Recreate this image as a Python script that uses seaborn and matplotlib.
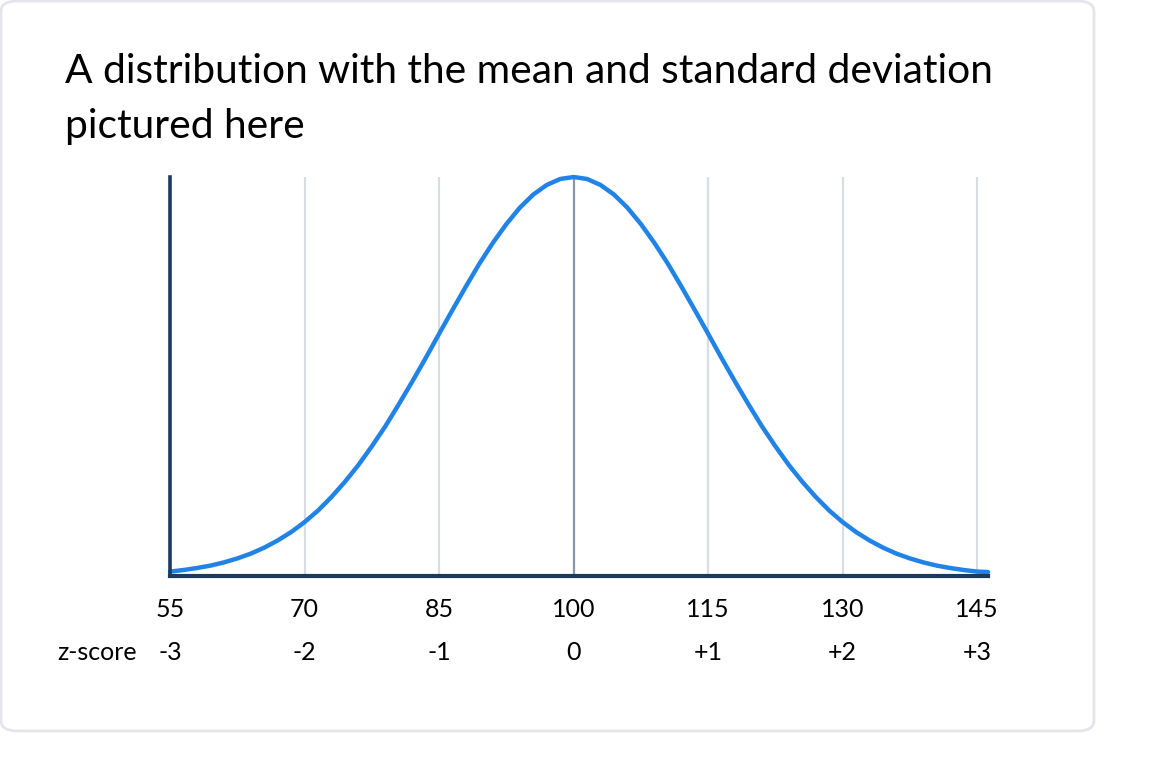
import numpy as np
import pandas as pd
import matplotlib
matplotlib.use("Agg")
import matplotlib.pyplot as plt
import seaborn as sns
from matplotlib.patches import FancyBboxPatch

# values (relative height, peak = 1)
scores = [55, 56.5, 58, 59.5, 61, 62.5, 64, 65.5, 67, 68.5,
          70, 71.5, 73, 74.5, 76, 77.5, 79, 80.5, 82, 83.5,
          85, 86.5, 88, 89.5, 91, 92.5, 94, 95.5, 97, 98.5,
          100, 101.5, 103, 104.5, 106, 107.5, 109, 110.5, 112, 113.5,
          115, 116.5, 118, 119.5, 121, 122.5, 124, 125.5, 127, 128.5,
          130, 131.5, 133, 134.5, 136, 137.5, 139, 140.5, 142, 143.5,
          145, 146.2]
heights = [0.011, 0.015, 0.020, 0.026, 0.034, 0.044, 0.056, 0.071, 0.089, 0.110,
           0.135, 0.164, 0.198, 0.236, 0.278, 0.325, 0.375, 0.430, 0.487, 0.546,
           0.607, 0.667, 0.726, 0.783, 0.835, 0.882, 0.923, 0.956, 0.980, 0.995,
           1.000, 0.995, 0.980, 0.956, 0.923, 0.882, 0.835, 0.783, 0.726, 0.667,
           0.607, 0.546, 0.487, 0.430, 0.375, 0.325, 0.278, 0.236, 0.198, 0.164,
           0.135, 0.110, 0.089, 0.071, 0.056, 0.044, 0.034, 0.026, 0.020, 0.015,
           0.011, 0.010]

tick_values = [55, 70, 85, 100, 115, 130, 145]
tick_labels = ["55", "70", "85", "100", "115", "130", "145"]
z_labels = ["-3", "-2", "-1", "0", "+1", "+2", "+3"]
title_lines = ["A distribution with the mean and standard deviation", "pictured here"]

sns.set_theme(style="white")
plt.rcParams['font.family'] = ['Lato', 'DejaVu Sans']

W, H = 1152, 764
fig = plt.figure(figsize=(W / 100, H / 100), dpi=100)
fig.patch.set_facecolor("white")

# card background
card = FancyBboxPatch((1 / W, (H - 731) / H), 1093 / W, 730 / H,
                      boxstyle="round,pad=0,rounding_size=0.014",
                      transform=fig.transFigure, facecolor="white",
                      edgecolor="#E4E4EC", linewidth=2, zorder=-1)
fig.patches.append(card)

ax = fig.add_axes([170 / W, (H - 576) / H, (988 - 170) / W, (576 - 177) / H])
ax.set_zorder(2)
ax.set_facecolor("none")

df = pd.DataFrame({"score": scores, "height": heights})

# vertical grid lines
for v in tick_values[1:]:
    col = "#8796A8" if v == 100 else "#D9DCE3"
    ax.axvline(v, color=col, linewidth=1.6, zorder=1)

sns.lineplot(data=df, x="score", y="height", ax=ax, color="#2183E6",
             linewidth=3.2, zorder=3, clip_on=False)

ax.set_xlim(55, 146.2)
ax.set_ylim(0, 1.0)
ax.set_yticks([])
ax.set_xticks(tick_values)
ax.set_xticklabels(tick_labels, fontsize=18)
ax.tick_params(axis="x", length=0, pad=16, labelcolor="black")
ax.set_xlabel("")
ax.set_ylabel("")

for side in ["top", "right"]:
    ax.spines[side].set_visible(False)
ax.spines["left"].set_color("#1B3A5C")
ax.spines["left"].set_linewidth(2.6)
ax.spines["bottom"].set_color("#1B3A5C")
ax.spines["bottom"].set_linewidth(3)
ax.spines["left"].set_zorder(4)
ax.spines["bottom"].set_zorder(4)

# z-score row
trans = ax.get_xaxis_transform()
zy = -(653 - 576) / (576 - 177)
for v, lab in zip(tick_values, z_labels):
    ax.text(v, zy, lab, transform=trans, ha="center", va="center",
            fontsize=18, color="black")
fig.text(97 / W, 1 - 653 / H, "z-score", ha="center", va="center",
         fontsize=18, color="black")

# title
fig.text(65 / W, 1 - 83 / H, title_lines[0], ha="left", va="baseline",
         fontsize=29.3, color="black")
fig.text(65 / W, 1 - 138 / H, title_lines[1], ha="left", va="baseline",
         fontsize=29.3, color="black")

fig.savefig("out.png", dpi=100)
